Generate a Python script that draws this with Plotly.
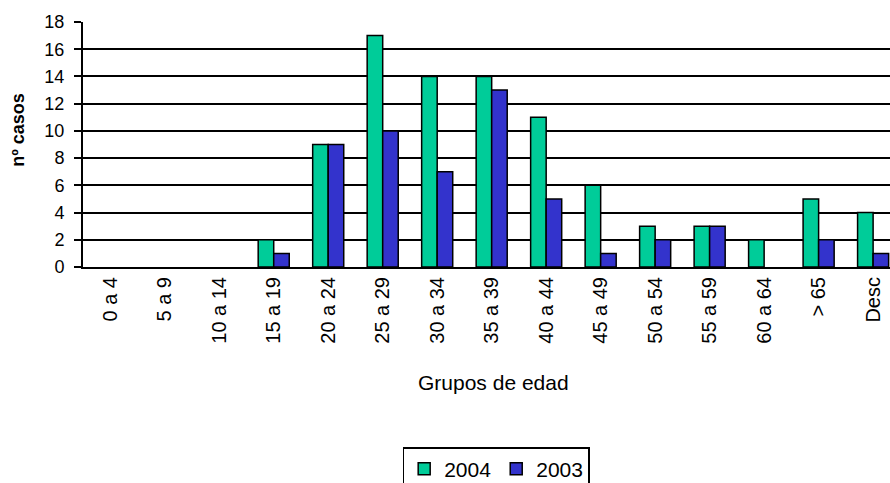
import plotly.graph_objects as go

grupos = ["0 a 4", "5 a 9", "10 a 14", "15 a 19", "20 a 24", "25 a 29", "30 a 34",
          "35 a 39", "40 a 44", "45 a 49", "50 a 54", "55 a 59", "60 a 64", "> 65", "Desc"]
casos_2004 = [0, 0, 0, 2, 9, 17, 14, 14, 11, 6, 3, 3, 2, 5, 4]
casos_2003 = [0, 0, 0, 1, 9, 10, 7, 13, 5, 1, 2, 3, 0, 2, 1]
y_ticks = [0, 2, 4, 6, 8, 10, 12, 14, 16, 18]

FONT = "Liberation Sans, Arial, sans-serif"


def sin_ceros(valores):
    # empty groups get no bar (and no outline) at all
    return [v if v != 0 else None for v in valores]


posiciones = list(range(len(grupos)))

fig = go.Figure()
fig.add_trace(go.Bar(x=posiciones, y=sin_ceros(casos_2004), name="2004",
                     marker=dict(color="#00CC99", line=dict(color="black", width=1.5))))
fig.add_trace(go.Bar(x=posiciones, y=sin_ceros(casos_2003), name="2003",
                     marker=dict(color="#3333CC", line=dict(color="black", width=1.5))))

fig.update_layout(
    width=890, height=483,
    margin=dict(l=83, r=0, t=22, b=216),
    paper_bgcolor="white", plot_bgcolor="white",
    barmode="group", bargap=0.43, bargroupgap=0,
    font=dict(family=FONT, size=18, color="black"),
    showlegend=True,
    legend=dict(orientation="h", x=0.512, xanchor="center",
                yref="container", y=0.0745, yanchor="top",
                bordercolor="black", borderwidth=1.5, font=dict(size=21),
                itemwidth=30, traceorder="normal"),
    xaxis=dict(
        tickmode="array", tickvals=posiciones, ticktext=grupos,
        tickangle=-90, range=[-0.5, 14.31],
        showline=True, linecolor="black", linewidth=2,
        showgrid=False, ticks="", ticklen=0, ticklabelstandoff=0,
        tickfont=dict(size=20),
    ),
    yaxis=dict(
        range=[0, 18], tickvals=y_ticks,
        showline=True, linecolor="black", linewidth=2,
        showgrid=True, gridcolor="black", gridwidth=2,
        zeroline=False, ticks="outside", ticklen=7, tickcolor="black", tickwidth=1.5,
        ticklabelstandoff=6, tickfont=dict(size=18),
    ),
    annotations=[
        dict(text="<b>nº casos</b>", textangle=-90, showarrow=False,
             xref="paper", yref="paper", x=0, xshift=-65, xanchor="center",
             y=0.56, yanchor="middle", font=dict(size=18)),
        dict(text="Grupos de edad", showarrow=False,
             xref="paper", yref="paper", x=0.509, xanchor="center",
             y=0, yshift=-115, yanchor="middle", font=dict(size=21)),
    ],
)

fig.write_html("out.html")
